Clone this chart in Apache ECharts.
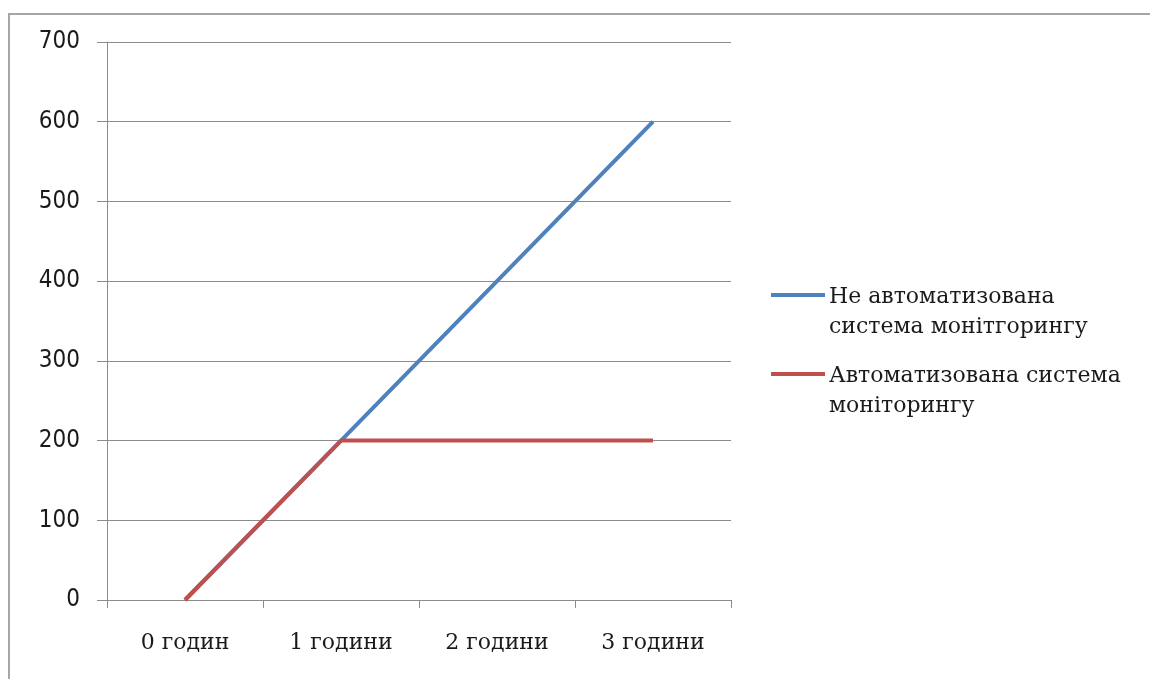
<!DOCTYPE html>
<html>
<head>
<meta charset="utf-8">
<script src="https://cdn.jsdelivr.net/npm/echarts@6/dist/echarts.min.js"></script>
<style>
  html, body { margin: 0; padding: 0; background: #fff; }
  #chart { width: 1150px; height: 679px; }
</style>
</head>
<body>
<div id="chart"></div>
<script>
// Monitoring time by hours: manual vs automated system
const categories = ['0 годин', '1 години', '2 години', '3 години'];
const manualValues = [0, 200, 400, 600];
const automatedValues = [0, 200, 200, 200];
const seriesNames = ['Не автоматизована\nсистема монітгорингу', 'Автоматизована система\nмоніторингу'];
const seriesColors = ['#4F81BD', '#C0504D'];
const yTicks = { min: 0, max: 700, interval: 100 };

const chart = echarts.init(document.getElementById('chart'), null, { renderer: 'canvas' });

const axisGray = '#8c8c8c';
const serif = '"DejaVu Serif", "Liberation Serif", serif';
const sans = '"DejaVu Sans Condensed", "DejaVu Sans", sans-serif';

// legend entries drawn as graphic items so the key line sits beside the first text line
const legendGraphics = [];
const legendTop = [295, 374];
seriesNames.forEach((name, i) => {
  legendGraphics.push({
    type: 'line',
    shape: { x1: 771, y1: legendTop[i], x2: 825, y2: legendTop[i] },
    style: { stroke: seriesColors[i], lineWidth: 4 }
  });
  legendGraphics.push({
    type: 'text',
    left: 829,
    top: legendTop[i] - 13,
    style: {
      text: name,
      font: '22px ' + serif,
      fill: '#1a1a1a',
      lineHeight: 30
    }
  });
});

chart.setOption({
  backgroundColor: '#fff',
  animation: false,
  grid: { left: 107, right: 419, top: 42, bottom: 79, containLabel: false },
  xAxis: {
    type: 'category',
    data: categories,
    boundaryGap: true,
    axisLine: { show: true, lineStyle: { color: axisGray, width: 1 } },
    axisTick: { show: true, alignWithLabel: false, length: 8, lineStyle: { color: axisGray } },
    axisLabel: { margin: 32, color: '#1a1a1a', fontSize: 22, fontFamily: serif },
    splitLine: { show: false }
  },
  yAxis: {
    type: 'value',
    min: yTicks.min,
    max: yTicks.max,
    interval: yTicks.interval,
    axisLine: { show: true, lineStyle: { color: axisGray, width: 1 } },
    axisTick: { show: true, length: 10, lineStyle: { color: axisGray } },
    axisLabel: { margin: 27, color: '#1a1a1a', fontSize: 24, fontFamily: sans },
    splitLine: { show: true, lineStyle: { color: axisGray, width: 1 } }
  },
  graphic: [
    {
      type: 'rect',
      shape: { x: 9, y: 14, width: 1160, height: 700 },
      style: { fill: 'none', stroke: '#a6a6a6', lineWidth: 2 },
      silent: true
    },
    ...legendGraphics
  ],
  series: [
    {
      name: seriesNames[0],
      type: 'line',
      data: manualValues,
      symbol: 'none',
      lineStyle: { color: seriesColors[0], width: 4 },
      itemStyle: { color: seriesColors[0] },
      z: 2
    },
    {
      name: seriesNames[1],
      type: 'line',
      data: automatedValues,
      symbol: 'none',
      lineStyle: { color: seriesColors[1], width: 4 },
      itemStyle: { color: seriesColors[1] },
      z: 3
    }
  ]
});
</script>
</body>
</html>
